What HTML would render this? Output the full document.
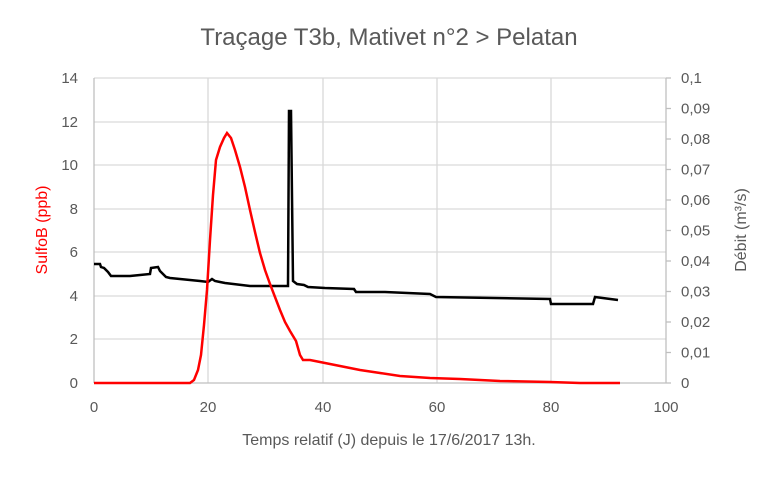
<!DOCTYPE html><html><head><meta charset="utf-8"><style>body{margin:0;background:#fff}svg{display:block}text{font-family:"Liberation Sans",sans-serif;fill:#595959}</style></head><body>
<svg width="778" height="478" viewBox="0 0 778 478">
<rect width="778" height="478" fill="#fff"/>
<text x="389" y="45" font-size="24" text-anchor="middle">Traçage T3b, Mativet n°2 &gt; Pelatan</text>
<g stroke="#d9d9d9" stroke-width="1.3">
<line x1="94" x2="666" y1="78" y2="78"/><line x1="94" x2="666" y1="122" y2="122"/><line x1="94" x2="666" y1="165" y2="165"/><line x1="94" x2="666" y1="209" y2="209"/><line x1="94" x2="666" y1="252" y2="252"/><line x1="94" x2="666" y1="296" y2="296"/><line x1="94" x2="666" y1="339" y2="339"/>
<line x1="208" x2="208" y1="78" y2="383"/><line x1="323" x2="323" y1="78" y2="383"/><line x1="437" x2="437" y1="78" y2="383"/><line x1="551" x2="551" y1="78" y2="383"/>
</g>
<g stroke="#bfbfbf" stroke-width="1.3"><line x1="94" x2="666" y1="383" y2="383"/><line x1="94" x2="94" y1="78" y2="383"/><line x1="666" x2="666" y1="78" y2="383"/>
<line x1="666" x2="671" y1="78" y2="78"/><line x1="666" x2="671" y1="108.5" y2="108.5"/><line x1="666" x2="671" y1="139" y2="139"/><line x1="666" x2="671" y1="169.5" y2="169.5"/><line x1="666" x2="671" y1="200" y2="200"/><line x1="666" x2="671" y1="230.5" y2="230.5"/><line x1="666" x2="671" y1="261" y2="261"/><line x1="666" x2="671" y1="291.5" y2="291.5"/><line x1="666" x2="671" y1="322" y2="322"/><line x1="666" x2="671" y1="352.5" y2="352.5"/><line x1="666" x2="671" y1="383" y2="383"/></g>
<g font-size="15" text-anchor="end">
<text x="78" y="83">14</text><text x="78" y="127">12</text><text x="78" y="170">10</text><text x="78" y="214">8</text><text x="78" y="257">6</text><text x="78" y="301">4</text><text x="78" y="344">2</text><text x="78" y="388">0</text></g>
<g font-size="15">
<text x="681" y="83">0,1</text><text x="681" y="113.5">0,09</text><text x="681" y="144">0,08</text><text x="681" y="174.5">0,07</text><text x="681" y="205">0,06</text><text x="681" y="235.5">0,05</text><text x="681" y="266">0,04</text><text x="681" y="296.5">0,03</text><text x="681" y="327">0,02</text><text x="681" y="357.5">0,01</text><text x="681" y="388">0</text></g>
<g font-size="15" text-anchor="middle">
<text x="94" y="412">0</text><text x="208" y="412">20</text><text x="323" y="412">40</text><text x="437" y="412">60</text><text x="551" y="412">80</text><text x="666" y="412">100</text></g>
<text x="389" y="445" font-size="16" text-anchor="middle">Temps relatif (J) depuis le 17/6/2017 13h.</text>
<text transform="translate(47,230) rotate(-90)" font-size="16" text-anchor="middle" style="fill:#ff0000">SulfoB (ppb)</text>
<text transform="translate(746,230) rotate(-90)" font-size="16" text-anchor="middle">Débit (m³/s)</text>
<polyline fill="none" stroke="#000" stroke-width="2.5" points="94,264 100,264 101,267 104,268 108,272 111,276 130,276 140,275 150,274 151,268 158,267 160,271 166,277 170,278 200,281 208,282 212,279 215,281 220,282 225,283 250,286 288,286 289,111 291,111 293,281 297,284 304,285 308,287 325,288 354,289 356,292 385,292 430,294 436,297 550,299 551,304 593,304 595,297 618,300"/>
<polyline fill="none" stroke="#ff0000" stroke-width="2.5" points="94,383 190,383 194,380 198,370 201,355 204,325 207,290 210,240 213,195 216,160 220,147 224,138 227,133 231,138 235,150 240,167 245,187 250,210 255,232 260,253 265,270 270,284 275,297 280,310 285,322 290,331 296,341 300,355 303,360 310,360 320,362 340,366 360,370 380,373 400,376 430,378 460,379 500,381 550,382 580,383 620,383"/>
</svg></body></html>
